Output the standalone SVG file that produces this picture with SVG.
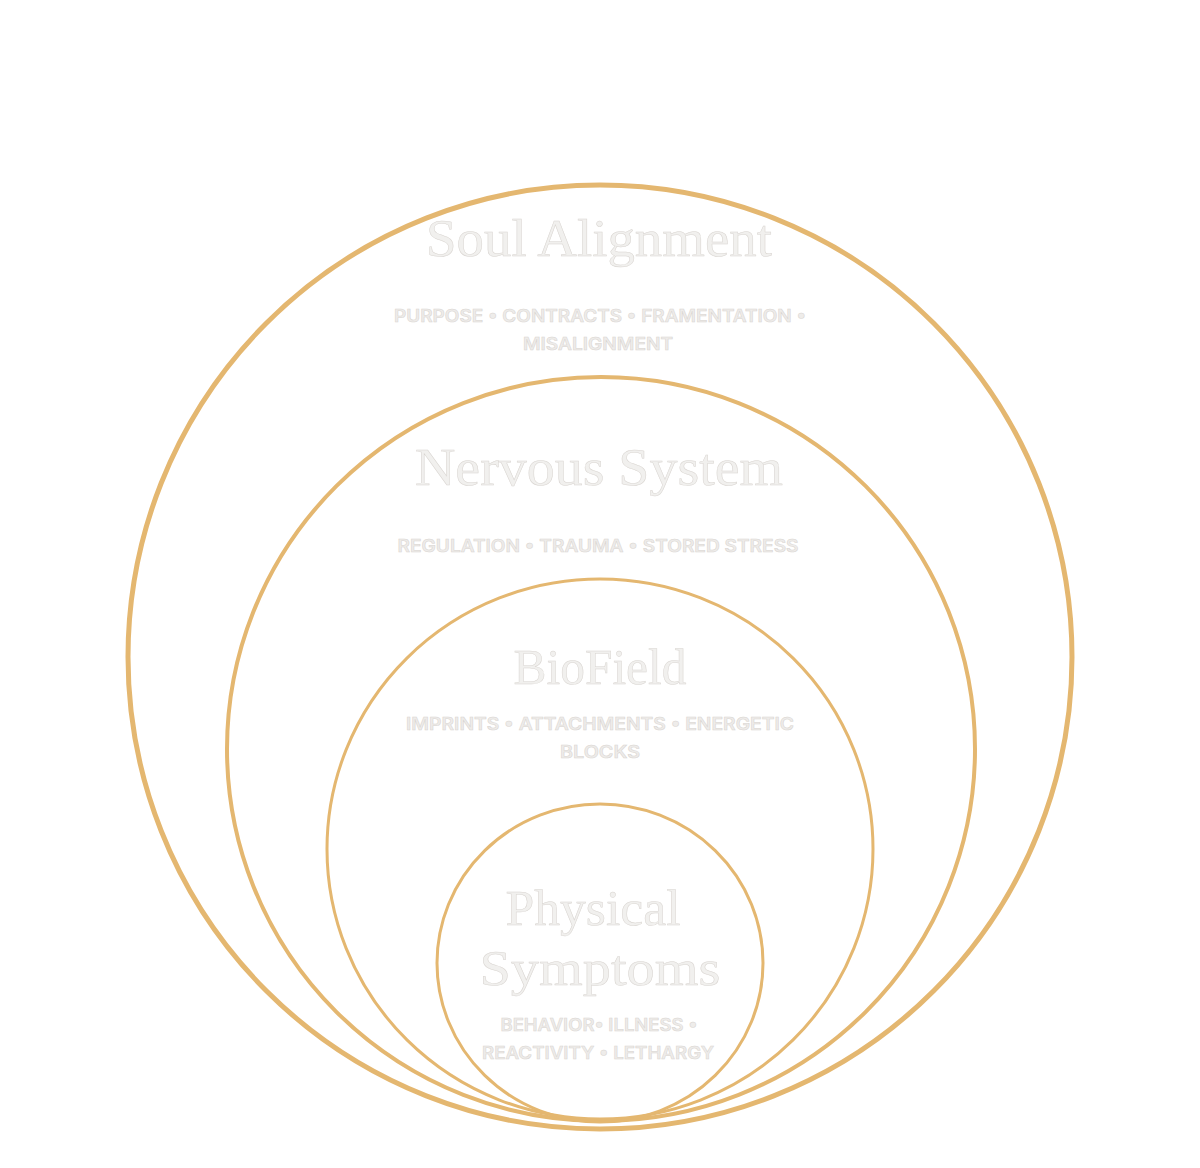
<svg xmlns="http://www.w3.org/2000/svg" width="1200" height="1168" viewBox="0 0 1200 1168">
<style>
.ring{fill:none;stroke:#E4B770}
.title{font-family:"Liberation Serif","DejaVu Serif",serif;font-weight:400;fill:#F1F0EE;stroke:#D9D5D1;stroke-width:0.5;text-anchor:middle}
.sub{font-family:Inter,"Liberation Sans",sans-serif;font-weight:600;font-size:17px;fill:#EEECEA;stroke:#D9D5D1;stroke-width:0.5;text-anchor:middle}
</style>
<rect width="1200" height="1168" fill="#FFFFFF"/>
<g id="connectors"/>
<g id="soul-alignment">
<ellipse class="ring" cx="600" cy="657" rx="472" ry="472" stroke-width="5"/>
<text class="title" x="599" y="256" font-size="52" textLength="346" lengthAdjust="spacingAndGlyphs">Soul Alignment</text>
<text class="sub" x="600" y="322" textLength="412" lengthAdjust="spacingAndGlyphs">PURPOSE • CONTRACTS • FRAMENTATION •</text>
<text class="sub" x="598" y="350" textLength="150" lengthAdjust="spacingAndGlyphs">MISALIGNMENT</text>
</g>
<g id="nervous-system">
<ellipse class="ring" cx="601" cy="749" rx="374" ry="372" stroke-width="4"/>
<text class="title" x="599" y="485" font-size="52" textLength="368" lengthAdjust="spacingAndGlyphs">Nervous System</text>
<text class="sub" x="598" y="552" textLength="401" lengthAdjust="spacingAndGlyphs">REGULATION • TRAUMA • STORED STRESS</text>
</g>
<g id="biofield">
<ellipse class="ring" cx="600" cy="849" rx="273" ry="270" stroke-width="3"/>
<text class="title" x="600" y="684" font-size="50" textLength="173" lengthAdjust="spacingAndGlyphs">BioField</text>
<text class="sub" x="600" y="730" textLength="388" lengthAdjust="spacingAndGlyphs">IMPRINTS  • ATTACHMENTS • ENERGETIC</text>
<text class="sub" x="600" y="758" textLength="80" lengthAdjust="spacingAndGlyphs">BLOCKS</text>
</g>
<g id="physical-symptoms">
<ellipse class="ring" cx="600" cy="963" rx="163" ry="159" stroke-width="3"/>
<text class="title" x="593" y="925" font-size="50" textLength="175" lengthAdjust="spacingAndGlyphs">Physical</text>
<text class="title" x="600" y="985" font-size="50" textLength="241" lengthAdjust="spacingAndGlyphs">Symptoms</text>
<text class="sub" x="599" y="1031" textLength="197" lengthAdjust="spacingAndGlyphs">BEHAVIOR• ILLNESS •</text>
<text class="sub" x="598" y="1059" textLength="232" lengthAdjust="spacingAndGlyphs">REACTIVITY • LETHARGY</text>
</g>
</svg>
